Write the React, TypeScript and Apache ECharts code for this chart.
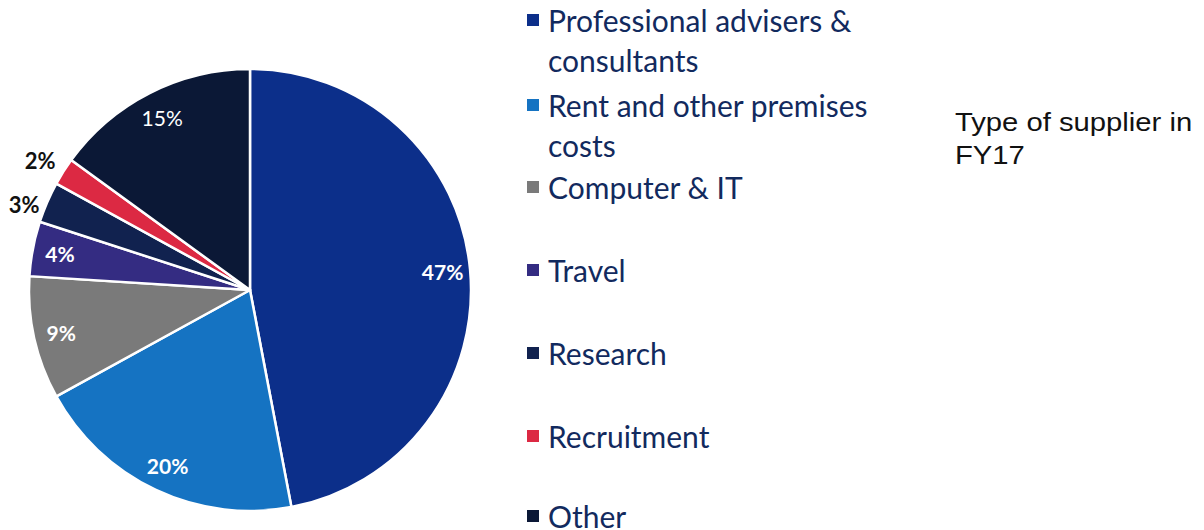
import React, { useEffect, useRef } from "react";
import * as echarts from "echarts";

const categories = [
  "Professional advisers & consultants",
  "Rent and other premises costs",
  "Computer & IT",
  "Travel",
  "Research",
  "Recruitment",
  "Other",
];
const legendLines = [
  ["Professional advisers &", "consultants"],
  ["Rent and other premises", "costs"],
  ["Computer & IT"],
  ["Travel"],
  ["Research"],
  ["Recruitment"],
  ["Other"],
];
const shares = [47, 20, 9, 4, 3, 2, 15];
const colors = ["#0c2f8a", "#1573c2", "#7a7a7a", "#342c82", "#11224f", "#dc2943", "#0b1836"];
const outsideLabel = [false, false, false, false, true, true, false];
const boldLabel = [true, true, true, true, true, true, false];
const titleText = "Type of supplier in\nFY17";

// layout constants
const legendCenters = [21, 106, 187, 270, 353, 436, 516];
const CX = 250;
const CY = 290;
const R = 221;

export default function App() {
  const ref = useRef<HTMLDivElement>(null);
  useEffect(() => {
    if (!ref.current) return;
    const chart = echarts.init(ref.current, undefined, { renderer: "svg" });
    const textColor = "#122a5e";
    const baseFont = { color: textColor, fontFamily: "Lato", fontSize: 30 };
    const legends = categories.map((name, i) => {
      const lines = legendLines[i];
      const twoLine = lines.length > 1;
      const formatted = twoLine
        ? `{s| }{a|${lines[0]}}\n{s2| }{b|${lines[1]}}`
        : `{s| }{c|${lines[0]}}`;
      return {
        orient: "vertical",
        left: 525,
        top: twoLine ? legendCenters[i] - 41 : legendCenters[i] - 16,
        padding: 0,
        itemGap: 0,
        icon: "rect",
        itemWidth: 14,
        itemHeight: 14,
        selectedMode: false,
        data: [name],
        formatter: () => formatted,
        textStyle: {
          ...baseFont,
          lineHeight: 32,
          rich: {
            s: { width: 3, lineHeight: twoLine ? 79 : 32 },
            s2: { width: 3, lineHeight: 1 },
            a: { ...baseFont, lineHeight: 79 },
            b: { ...baseFont, lineHeight: 1 },
            c: { ...baseFont, lineHeight: 32 },
          },
        },
      };
    });
    chart.setOption({
      animation: false,
      backgroundColor: "#ffffff",
      graphic: [
        {
          type: "text",
          x: 955,
          y: 106,
          scaleX: 1.17,
          silent: true,
          style: {
            text: titleText,
            fontFamily: "Liberation Sans",
            fontSize: 25,
            lineHeight: 33,
            fill: "#111111",
            verticalAlign: "top",
          },
        },
      ],
      legend: legends,
      series: [
        {
          type: "pie",
          center: [CX, CY],
          radius: R,
          startAngle: 90,
          silent: true,
          label: { show: false },
          labelLine: { show: false },
          emphasis: { disabled: true },
          data: categories.map((name, i) => ({
            name,
            value: shares[i],
            itemStyle: { color: colors[i], borderColor: "#ffffff", borderWidth: 2.5 },
          })),
        },
        {
          type: "pie",
          center: [CX, CY],
          radius: [160, R],
          startAngle: 90,
          silent: true,
          avoidLabelOverlap: false,
          emphasis: { disabled: true },
          itemStyle: { color: "rgba(0,0,0,0)", borderWidth: 0 },
          label: {
            show: true,
            position: "inside",
            formatter: "{c}%",
            color: "#ffffff",
            fontFamily: "Lato",
            fontSize: 21,
          },
          labelLine: { show: false },
          labelLayout: (p: any) =>
            p.dataIndex === 5 ? { dx: 15 } : p.dataIndex === 4 ? { dx: 2, dy: 4 } : {},
          data: categories.map((name, i) => ({
            name,
            value: shares[i],
            itemStyle: { color: "rgba(0,0,0,0)" },
            label: outsideLabel[i]
              ? {
                  position: "outside",
                  color: "#111111",
                  fontWeight: "bold",
                  fontSize: 22,
                  distanceToLabelLine: 2,
                }
              : { fontWeight: boldLabel[i] ? "bold" : "normal" },
            labelLine: outsideLabel[i]
              ? { show: false, length: i === 5 ? 20 : 4, length2: 4 }
              : { show: false },
          })),
        },
      ],
    });
    return () => chart.dispose();
  }, []);
  return (
    <div
      ref={ref}
      style={{ position: "fixed", left: 0, top: 0, width: 1204, height: 530, background: "#fff" }}
    />
  );
}
